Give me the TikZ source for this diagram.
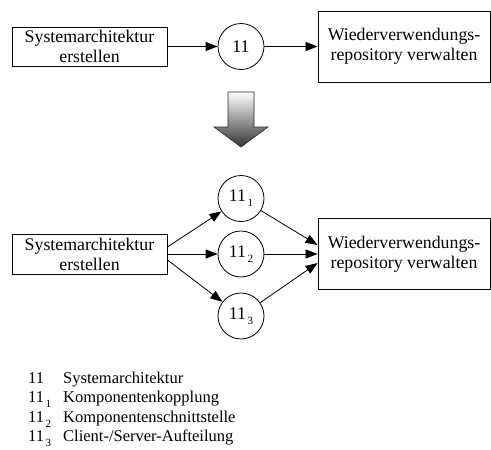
\documentclass[tikz,border=0pt]{standalone}
\usepackage{fontspec}
\setmainfont{Liberation Serif}
\usetikzlibrary{arrows.meta}
% lowered index digit, as in 11 with index 1
\newcommand\idx[1]{\kern1.5pt\raisebox{-5pt}{\fontsize{11}{11}\selectfont#1}}
\begin{document}
\begin{tikzpicture}[x=1pt,y=-1pt,
  box/.style={draw, line width=0.9pt, inner sep=0pt, align=center,
    font=\fontsize{17.8}{20}\selectfont},
  proc/.style={draw, circle, line width=0.8pt, inner sep=0pt, minimum size=46pt,
    font=\fontsize{17.8}{20}\selectfont},
  flow/.style={line width=0.8pt, -{Triangle[length=12pt,width=9pt]}},
  legend/.style={anchor=base west, inner sep=0pt, font=\fontsize{16.5}{19}\selectfont}]
\useasboundingbox (0,0) rectangle (491,450);

% upper process chain
\node[box, minimum width=155pt, minimum height=39pt] (lt) at (89.5,46.5)
  {Systemarchitektur\\erstellen};
\node[proc] (c0) at (241,46.5) {11};
\node[box, minimum width=172pt, minimum height=71pt] (rt) at (404,46.5)
  {Wiederverwendungs-\\repository verwalten};
\draw[flow] (lt.east) -- (c0);
\draw[flow] (c0) -- (rt.west);

% shaded refinement arrow
\shade[top color=white, bottom color=black!80, draw=black!85, line width=0.6pt]
  (228,92) -- (254,92) -- (254,127) -- (268,127) -- (241,147)
  -- (214,127) -- (228,127) -- cycle;

% refined process chain
\node[box, minimum width=155pt, minimum height=40pt] (lb) at (89.5,254)
  {Systemarchitektur\\erstellen};
\node[proc] (c1) at (241,198.5) {11\idx{1}};
\node[proc] (c2) at (241,254) {11\idx{2}};
\node[proc] (c3) at (241,316) {11\idx{3}};
\node[box, minimum width=172pt, minimum height=71pt] (rb) at (404,254)
  {Wiederverwendungs-\\repository verwalten};
\draw[flow] ([yshift=7pt]lb.east) -- (c1);
\draw[flow] (lb.east) -- (c2);
\draw[flow] ([yshift=-6pt]lb.east) -- (c3);
\draw[flow] (c1) -- ([yshift=9pt]rb.west);
\draw[flow] (c2) -- (rb.west);
\draw[flow] (c3) -- ([yshift=-9pt]rb.west);

% legend
\node[legend] (k0) at (28,383) {11};
\node[legend] (t0) at (63,383) {Systemarchitektur};
\node[legend] (k1) at (28,402.5) {11\idx{1}};
\node[legend] (t1) at (63,402.5) {Komponentenkopplung};
\node[legend] (k2) at (28,422) {11\idx{2}};
\node[legend] (t2) at (63,422) {Komponentenschnittstelle};
\node[legend] (k3) at (28,441.5) {11\idx{3}};
\node[legend] (t3) at (63,441.5) {Client-/Server-Aufteilung};
\end{tikzpicture}
\end{document}
